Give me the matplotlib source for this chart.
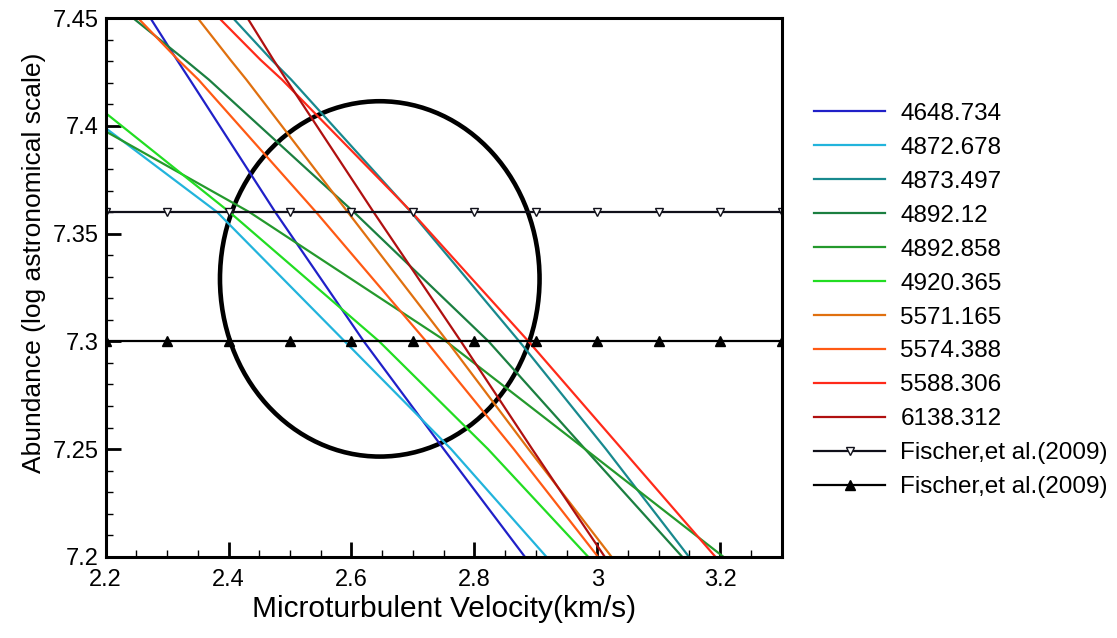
import matplotlib
matplotlib.use("Agg")
import matplotlib.pyplot as plt
import numpy as np
from matplotlib.patches import Ellipse

plt.rcParams['font.family'] = ['Liberation Sans', 'DejaVu Sans']

levels = [7.45, 7.4307, 7.4215, 7.36, 7.30, 7.25, 7.20]

labels = ["4648.734", "4872.678", "4873.497", "4892.12", "4892.858",
          "4920.365", "5571.165", "5574.388", "5588.306", "6138.312"]
colors = ["#2020c8", "#22b4dc", "#18898e", "#1b7f40", "#24992c",
          "#22dd22", "#e0700f", "#ff5a14", "#ff2a1a", "#b01010"]

v_4648 = [2.273, 2.316, 2.337, 2.476, 2.620, 2.750, 2.882]
v_4873 = [2.4075, 2.470, 2.502, 2.697, 2.873, 3.014, 3.149]
v_4892a = [2.245, 2.329, 2.368, 2.604, 2.823, 2.980, 3.138]
v_5571 = [2.350, 2.403, 2.429, 2.594, 2.756, 2.888, 3.023]
v_5574 = [2.253, 2.318, 2.351, 2.5424, 2.7215, 2.864, 3.001]
v_5588 = [2.385, 2.452, 2.487, 2.698, 2.888, 3.040, 3.192]
v_6138 = [2.431, 2.473, 2.494, 2.636, 2.778, 2.894, 3.012]

# lines that enter from the left edge instead of the top
left_levels = [7.399, 7.36, 7.30, 7.25, 7.20]
v_4872 = [2.20, 2.3815, 2.589, 2.762, 2.917]
left_levels_b = [7.3975, 7.36, 7.30, 7.25, 7.20]
v_4892b = [2.20, 2.434, 2.754, 2.980, 3.205]
left_levels_c = [7.406, 7.36, 7.30, 7.25, 7.20]
v_4920 = [2.20, 2.4016, 2.645, 2.822, 2.985]

series = [
    (v_4648, levels), (v_4872, left_levels), (v_4873, levels),
    (v_4892a, levels), (v_4892b, left_levels_b), (v_4920, left_levels_c),
    (v_5571, levels), (v_5574, levels), (v_5588, levels), (v_6138, levels),
]

# Fischer et al. (2009) reference abundances
fischer_x = [2.2, 2.3, 2.4, 2.5, 2.6, 2.7, 2.8, 2.9, 3.0, 3.1, 3.2, 3.3]
fischer_hi = 7.36
fischer_lo = 7.30

# error ellipse: centre and half widths
ell_center = (2.646, 7.329)
ell_halfw = 0.26
ell_halfh = 0.0825

fig = plt.figure(figsize=(11.17, 6.38), dpi=100)
ax = fig.add_axes([0.0946, 0.1274, 0.6052, 0.8439])

for (xs, ys), lab, col in zip(series, labels, colors):
    ax.plot(xs, ys, color=col, lw=1.6, label=lab)

ax.plot(fischer_x, [fischer_hi] * len(fischer_x), color="#10101a", lw=1.6,
        marker="v", ms=6, mfc="white", mec="#10101a", mew=1.0,
        label="Fischer,et al.(2009)")
ax.plot(fischer_x, [fischer_lo] * len(fischer_x), color="black", lw=1.6,
        marker="^", ms=7, mfc="black", mec="black",
        label="Fischer,et al.(2009)")

ax.add_patch(Ellipse(ell_center, 2 * ell_halfw, 2 * ell_halfh,
                     fill=False, ec="black", lw=3.3))

ax.set_xlim(2.2, 3.3)
ax.set_ylim(7.2, 7.45)
ax.set_xticks([2.2, 2.4, 2.6, 2.8, 3.0, 3.2])
ax.set_xticklabels(["2.2", "2.4", "2.6", "2.8", "3", "3.2"])
ax.set_xticks(np.arange(2.2, 3.3, 0.05), minor=True)
ax.set_yticks([7.2, 7.25, 7.3, 7.35, 7.4, 7.45])
ax.set_yticklabels(["7.2", "7.25", "7.3", "7.35", "7.4", "7.45"])
ax.set_yticks(np.arange(7.2, 7.45, 0.01), minor=True)

ax.tick_params(which="major", direction="in", length=11, width=2,
               labelsize=17, top=False, right=False)
ax.tick_params(axis="x", which="major", pad=9)
ax.tick_params(axis="y", which="major", pad=5)
ax.tick_params(which="minor", direction="in", length=5, width=1,
               top=False, right=False)
for sp in ax.spines.values():
    sp.set_linewidth(2.2)

ax.set_xlabel("Microturbulent Velocity(km/s)", fontsize=21.5, labelpad=3)
ax.set_ylabel("Abundance (log astronomical scale)", fontsize=19)
ax.yaxis.set_label_coords(-0.088, 0.545)

ax.legend(loc="upper left", bbox_to_anchor=(0.729, 0.8386),
          bbox_transform=fig.transFigure, frameon=False, fontsize=17.5,
          handlelength=2.92, handletextpad=0.62, labelspacing=0.49,
          borderpad=0, borderaxespad=0, numpoints=1)

fig.savefig("out.png", dpi=100)
